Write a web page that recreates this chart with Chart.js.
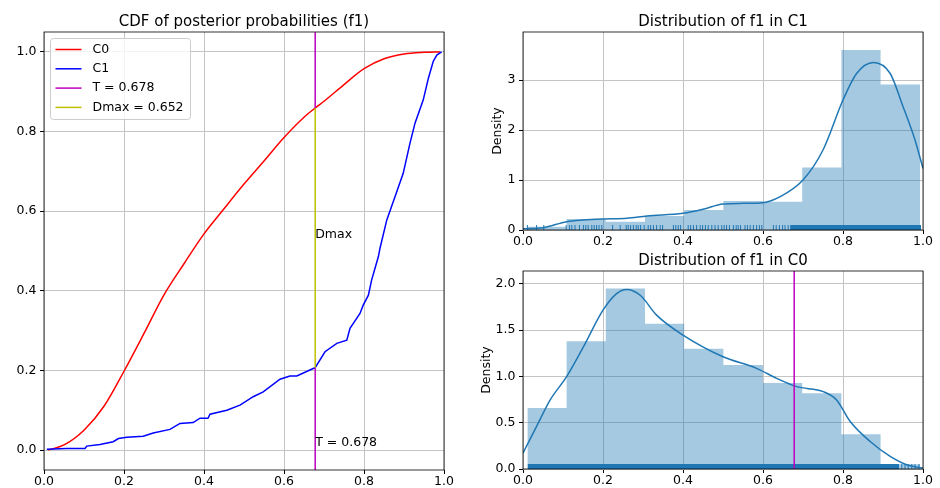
<!DOCTYPE html>
<html>
<head>
<meta charset="utf-8">
<script src="https://cdn.jsdelivr.net/npm/chart.js"></script>
<style>
  html, body { margin: 0; padding: 0; background: #fff; }
  #fig { position: relative; width: 940px; height: 488px; }
  #fig canvas { position: absolute; left: 0; top: 0; }
</style>
</head>
<body>
<div id="fig">
  <canvas id="cdf" width="940" height="488"></canvas>
  <canvas id="distC1" width="940" height="488"></canvas>
  <canvas id="distC0" width="940" height="488"></canvas>
</div>
<script>
// --- values ---
const xTicks = [0, 0.2, 0.4, 0.6, 0.8, 1.0];
const cdfTicks = [0, 0.2, 0.4, 0.6, 0.8, 1.0];
const c1Ticks = [0, 1, 2, 3];
const c0Ticks = [0, 0.5, 1.0, 1.5, 2.0];

const threshold = 0.678;
const c0AtT = 0.859;
const c1AtT = 0.207;

// empirical CDF of C0 (red)
const cdfC0X = [0.01, 0.05, 0.1, 0.15, 0.2, 0.25, 0.3, 0.35, 0.4, 0.45, 0.5, 0.55, 0.6, 0.65, 0.678, 0.7, 0.75, 0.8, 0.85, 0.9, 0.95, 0.99];
const cdfC0Y = [0.0, 0.013, 0.05, 0.11, 0.198, 0.293, 0.39, 0.468, 0.543, 0.606, 0.668, 0.726, 0.785, 0.836, 0.859, 0.876, 0.918, 0.958, 0.983, 0.995, 0.999, 1.0];

// empirical CDF of C1 (blue)
const cdfC1X = [0.007, 0.057, 0.1025, 0.107, 0.14, 0.173, 0.186, 0.207, 0.248, 0.273, 0.315, 0.34, 0.373, 0.39, 0.41, 0.415, 0.457, 0.49, 0.523, 0.548, 0.59, 0.615, 0.632, 0.673, 0.678, 0.7025, 0.732, 0.757, 0.765, 0.79, 0.798, 0.811, 0.819, 0.836, 0.84, 0.857, 0.8775, 0.898, 0.915, 0.9275, 0.948, 0.961, 0.973, 0.982, 0.994];
const cdfC1Y = [0.002, 0.004, 0.004, 0.01, 0.014, 0.021, 0.029, 0.032, 0.035, 0.043, 0.052, 0.067, 0.069, 0.08, 0.08, 0.09, 0.1, 0.113, 0.134, 0.146, 0.178, 0.186, 0.186, 0.205, 0.207, 0.247, 0.268, 0.276, 0.306, 0.343, 0.364, 0.389, 0.427, 0.486, 0.507, 0.578, 0.636, 0.695, 0.771, 0.821, 0.879, 0.934, 0.976, 0.992, 1.0];

// histogram bins (shared edges) and densities
const binEdges = [0.011, 0.109, 0.207, 0.305, 0.403, 0.501, 0.600, 0.698, 0.796, 0.894, 0.993];
const histC1 = [0.066, 0.22, 0.167, 0.28, 0.4, 0.58, 0.567, 1.25, 3.6, 2.91];
const histC0 = [0.66, 1.38, 1.95, 1.57, 1.30, 1.125, 0.93, 0.82, 0.375, 0.05];

// kde curves
const kdeC1X = [0.0, 0.05, 0.109, 0.15, 0.2, 0.26, 0.31, 0.4, 0.45, 0.5, 0.55, 0.6, 0.643, 0.7, 0.75, 0.8, 0.834, 0.876, 0.918, 0.95, 0.98, 1.0];
const kdeC1Y = [0.027, 0.047, 0.167, 0.2, 0.22, 0.233, 0.28, 0.333, 0.413, 0.52, 0.533, 0.547, 0.667, 1.0, 1.6, 2.6, 3.13, 3.35, 3.13, 2.47, 1.8, 1.23];
const kdeC0X = [0.0, 0.034, 0.068, 0.109, 0.151, 0.2, 0.234, 0.259, 0.293, 0.334, 0.4, 0.5, 0.584, 0.634, 0.684, 0.751, 0.784, 0.818, 0.868, 0.918, 0.959, 1.0];
const kdeC0Y = [0.172, 0.46, 0.747, 0.998, 1.32, 1.717, 1.896, 1.94, 1.878, 1.663, 1.447, 1.213, 1.088, 0.98, 0.89, 0.836, 0.747, 0.513, 0.297, 0.136, 0.046, 0.01];

// rug marks
const rugC1 = [0.011, 0.034, 0.052, 0.108, 0.116, 0.122, 0.13, 0.141, 0.151, 0.157, 0.163, 0.172, 0.178, 0.184, 0.19, 0.197, 0.224, 0.243, 0.258, 0.263, 0.269, 0.276, 0.283, 0.288, 0.294, 0.303, 0.313, 0.319, 0.326, 0.334, 0.343, 0.349, 0.376, 0.382, 0.388, 0.394, 0.413, 0.419, 0.426, 0.434, 0.443, 0.449, 0.456, 0.463, 0.472, 0.48, 0.488, 0.497, 0.503, 0.509, 0.516, 0.526, 0.533, 0.538, 0.544, 0.555, 0.561, 0.568, 0.576, 0.584, 0.591, 0.597, 0.626, 0.633, 0.641, 0.649, 0.655, 0.663];
const rugC1Band = [0.668, 0.995];
const rugC0 = [0.947, 0.955, 0.963, 0.972, 0.98, 0.99];
const rugC0Band = [0.012, 0.94];

// --- helpers ---
Chart.defaults.font.family = "'DejaVu Sans', sans-serif";
Chart.defaults.font.size = 12.5;
Chart.defaults.color = '#000';

const gridColor = '#c4c4c4';
const seabornBlue = '#1f77b4';

const pts = (xs, ys) => xs.map((x, i) => ({ x, y: ys[i] }));

function histPoints(edges, heights) {
  const out = heights.map((h, i) => ({ x: edges[i], y: h }));
  out.push({ x: edges[edges.length - 1], y: heights[heights.length - 1] });
  return out;
}

function xScale(height) {
  return {
    type: 'linear',
    min: 0,
    max: 1,
    afterBuildTicks: (s) => { s.ticks = xTicks.map((v) => ({ value: v })); },
    afterFit: (s) => { s.height = height; },
    ticks: { autoSkip: false, maxRotation: 0, padding: 0, callback: (v) => v.toFixed(1) },
    grid: { color: gridColor, tickColor: '#000', tickLength: 4 },
    border: { display: false },
  };
}

function yScale(min, max, ticks, digits, width, title) {
  return {
    type: 'linear',
    min,
    max,
    afterBuildTicks: (s) => { s.ticks = ticks.map((v) => ({ value: v })); },
    afterFit: (s) => { s.width = width; },
    ticks: { padding: 3.5, callback: (v) => v.toFixed(digits) },
    grid: { color: gridColor, tickColor: '#000', tickLength: 4 },
    border: { display: false },
    title: title
      ? { display: true, text: title, padding: 0, font: { size: 12.5 } }
      : { display: false },
  };
}

// frame, title, text notes and legend, drawn the matplotlib way
const figurePlugin = {
  id: 'figure',
  afterDraw(chart, args, opts) {
    const { ctx, chartArea: a, scales } = chart;
    ctx.save();
    ctx.strokeStyle = '#000';
    ctx.lineWidth = 0.8;
    ctx.strokeRect(a.left, a.top, a.right - a.left, a.bottom - a.top);

    ctx.fillStyle = '#000';
    ctx.font = "15px 'DejaVu Sans'";
    ctx.textAlign = 'center';
    ctx.textBaseline = 'middle';
    ctx.fillText(opts.title, (a.left + a.right) / 2, a.top - 10);

    ctx.font = "12.5px 'DejaVu Sans'";
    ctx.textAlign = 'left';
    ctx.textBaseline = 'alphabetic';
    (opts.notes || []).forEach((n) => {
      ctx.fillText(n.text, scales.x.getPixelForValue(n.x), scales.y.getPixelForValue(n.y));
    });

    if (opts.legend) {
      const items = chart.data.datasets.filter((d) => d.label);
      const bx = a.left + 6.5;
      const by = a.top + 6.5;
      ctx.beginPath();
      ctx.roundRect(bx, by, 140, 81, 3);
      ctx.fillStyle = 'rgba(255,255,255,0.8)';
      ctx.fill();
      ctx.strokeStyle = '#cccccc';
      ctx.lineWidth = 1;
      ctx.stroke();
      ctx.textBaseline = 'middle';
      items.forEach((d, i) => {
        const y = by + 11 + i * 19.3;
        ctx.strokeStyle = d.borderColor;
        ctx.lineWidth = 1.5;
        ctx.beginPath();
        ctx.moveTo(bx + 5, y);
        ctx.lineTo(bx + 31, y);
        ctx.stroke();
        ctx.fillStyle = '#000';
        ctx.fillText(d.label, bx + 42, y);
      });
    }
    ctx.restore();
  },
};

const baseOptions = {
  responsive: false,
  animation: false,
  devicePixelRatio: 1,
  elements: { point: { radius: 0 } },
};

// --- left: CDF ---
new Chart(document.getElementById('cdf'), {
  type: 'line',
  data: {
    datasets: [
      {
        label: 'C0',
        data: pts(cdfC0X, cdfC0Y),
        borderColor: '#ff0000',
        borderWidth: 1.5,
        cubicInterpolationMode: 'monotone',
        order: 4,
      },
      {
        label: 'C1',
        data: pts(cdfC1X, cdfC1Y),
        borderColor: '#0000ff',
        borderWidth: 1.5,
        order: 3,
      },
      {
        // the stretch covered by the Dmax segment is left out so the colours don't mix
        label: `T = ${threshold}`,
        data: [
          { x: threshold, y: -0.05 },
          { x: threshold, y: c1AtT },
          { x: threshold, y: null },
          { x: threshold, y: c0AtT },
          { x: threshold, y: 1.05 },
        ],
        spanGaps: false,
        borderColor: '#bf00bf',
        borderWidth: 1.5,
        order: 2,
      },
      {
        label: `Dmax = ${(c0AtT - c1AtT).toFixed(3)}`,
        data: [{ x: threshold, y: c1AtT }, { x: threshold, y: c0AtT }],
        borderColor: '#bfbf00',
        borderWidth: 1.5,
        order: 1,
      },
    ],
  },
  options: {
    ...baseOptions,
    layout: { padding: { left: 0, top: 32, right: 496, bottom: 0 } },
    scales: {
      x: xScale(18),
      y: yScale(-0.05, 1.05, cdfTicks, 1, 44),
    },
    plugins: {
      legend: { display: false },
      tooltip: { enabled: false },
      figure: {
        title: 'CDF of posterior probabilities (f1)',
        legend: true,
        notes: [
          { x: threshold, y: (c0AtT + c1AtT) / 2, text: 'Dmax' },
          { x: threshold, y: 0.01, text: `T = ${threshold}` },
        ],
      },
    },
  },
  plugins: [figurePlugin],
});

function distDatasets(hist, kdeX, kdeY, rug, band, extra) {
  return [
    ...extra,
    {
      data: pts(kdeX, kdeY),
      borderColor: seabornBlue,
      borderWidth: 1.5,
      cubicInterpolationMode: 'monotone',
    },
    {
      data: rug.map((x) => ({ x, y: 0 })),
      showLine: false,
      pointStyle: 'line',
      rotation: 90,
      pointRadius: 5,
      pointBorderWidth: 1,
      pointBorderColor: seabornBlue,
      clip: 0,
    },
    {
      data: band.map((x) => ({ x, y: 0 })),
      borderColor: seabornBlue,
      borderWidth: 10,
      borderCapStyle: 'butt',
      clip: 0,
    },
    {
      data: histPoints(binEdges, hist),
      stepped: 'before',
      fill: 'origin',
      borderWidth: 0,
      borderColor: 'rgba(0,0,0,0)',
      backgroundColor: 'rgba(31,119,180,0.4)',
    },
  ];
}

// --- top right: C1 ---
new Chart(document.getElementById('distC1'), {
  type: 'line',
  data: { datasets: distDatasets(histC1, kdeC1X, kdeC1Y, rugC1, rugC1Band, []) },
  options: {
    ...baseOptions,
    layout: { padding: { left: 490.5, top: 32, right: 17, bottom: 238 } },
    scales: {
      x: xScale(20),
      y: yScale(0, 3.96, c1Ticks, 0, 32.5, 'Density'),
    },
    plugins: {
      legend: { display: false },
      tooltip: { enabled: false },
      figure: { title: 'Distribution of f1 in C1' },
    },
  },
  plugins: [figurePlugin],
});

// --- bottom right: C0 ---
new Chart(document.getElementById('distC0'), {
  type: 'line',
  data: {
    datasets: distDatasets(histC0, kdeC0X, kdeC0Y, rugC0, rugC0Band, [
      {
        data: [{ x: threshold, y: 0 }, { x: threshold, y: 2.14 }],
        borderColor: '#bf00bf',
        borderWidth: 1.5,
      },
    ]),
  },
  options: {
    ...baseOptions,
    layout: { padding: { left: 479.5, top: 271, right: 17, bottom: 0 } },
    scales: {
      x: xScale(19),
      y: yScale(0, 2.14, c0Ticks, 1, 43.5, 'Density'),
    },
    plugins: {
      legend: { display: false },
      tooltip: { enabled: false },
      figure: { title: 'Distribution of f1 in C0' },
    },
  },
  plugins: [figurePlugin],
});
</script>
</body>
</html>
